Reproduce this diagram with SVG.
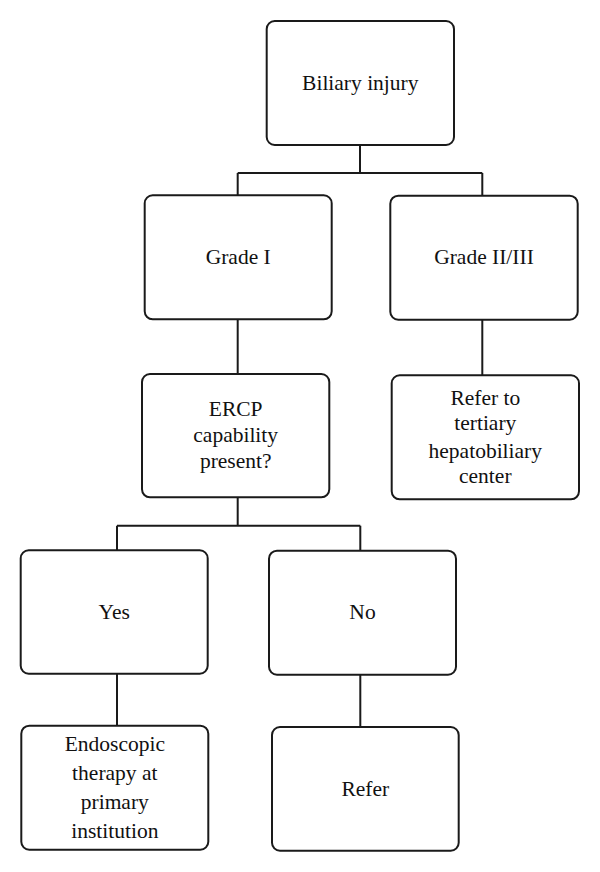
<svg xmlns="http://www.w3.org/2000/svg" width="600" height="872" viewBox="0 0 600 872">
<style>
.box{fill:#fff;stroke:#1a1a1a;stroke-width:2}
.lbl{font-family:"Liberation Serif",serif;font-size:21.5px;fill:#111;text-anchor:middle}
.con{fill:none;stroke:#1a1a1a;stroke-width:2}
</style>
<rect width="600" height="872" fill="#fff"/>
<g id="connectors">
<path class="con" d="M360,145 V173 M237.7,173 H482.3 M237.7,173 V195 M482.3,173 V195"/>
<path class="con" d="M237.7,319 V374"/>
<path class="con" d="M482.3,319 V375"/>
<path class="con" d="M237.7,497 V525.7 M117,525.7 H360.3 M117,525.7 V550 M360.3,525.7 V550"/>
<path class="con" d="M117,673.7 V725.7"/>
<path class="con" d="M360.3,674.7 V727"/>
</g>
<g id="biliary-injury">
<rect class="box" x="266.7" y="21" width="187.3" height="124" rx="8"/>
<text class="lbl" x="360.3" y="90">Biliary injury</text>
</g>
<g id="grade-1">
<rect class="box" x="144.7" y="195.3" width="187" height="124" rx="8"/>
<text class="lbl" x="238.2" y="264">Grade I</text>
</g>
<g id="grade-2-3">
<rect class="box" x="390.3" y="195.7" width="187.4" height="124" rx="8"/>
<text class="lbl" x="484" y="264">Grade II/III</text>
</g>
<g id="ercp">
<rect class="box" x="142" y="374" width="187.3" height="123.3" rx="8"/>
<text class="lbl" x="235.7" y="416">ERCP</text>
<text class="lbl" x="235.7" y="441.5">capability</text>
<text class="lbl" x="235.7" y="468">present?</text>
</g>
<g id="refer-tertiary">
<rect class="box" x="391.7" y="375.3" width="187.3" height="124" rx="8"/>
<text class="lbl" x="485.3" y="405">Refer to</text>
<text class="lbl" x="485.3" y="430">tertiary</text>
<text class="lbl" x="485.3" y="457.5">hepatobiliary</text>
<text class="lbl" x="485.3" y="483">center</text>
</g>
<g id="yes">
<rect class="box" x="20.7" y="550.3" width="187" height="123.4" rx="8"/>
<text class="lbl" x="114.2" y="618.5">Yes</text>
</g>
<g id="no">
<rect class="box" x="269" y="550.7" width="187" height="124" rx="8"/>
<text class="lbl" x="362.5" y="619.3">No</text>
</g>
<g id="endoscopic">
<rect class="box" x="21.3" y="725.7" width="187" height="124" rx="8"/>
<text class="lbl" x="114.8" y="751">Endoscopic</text>
<text class="lbl" x="114.8" y="779.5">therapy at</text>
<text class="lbl" x="114.8" y="808.5">primary</text>
<text class="lbl" x="114.8" y="837.5">institution</text>
</g>
<g id="refer">
<rect class="box" x="272" y="727" width="186.7" height="123.7" rx="8"/>
<text class="lbl" x="365.3" y="795.7">Refer</text>
</g>
</svg>
